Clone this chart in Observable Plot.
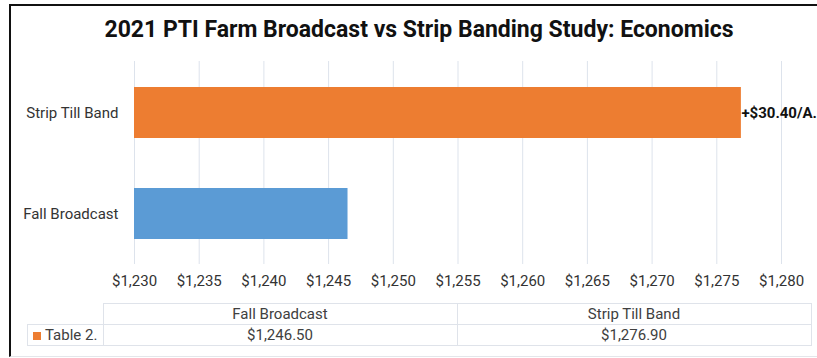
<!DOCTYPE html>
<html>
<head>
<meta charset="utf-8">
<script src="https://cdn.jsdelivr.net/npm/d3@7"></script>
<script src="https://cdn.jsdelivr.net/npm/@observablehq/plot@0.6"></script>
<style>
  html, body { margin: 0; padding: 0; background: #fff; }
  body { width: 817px; height: 358px; overflow: hidden; position: relative; font-family: Roboto, "Noto Sans", sans-serif; }
  #frame { position: absolute; left: 9px; top: 4px; width: 900px; height: 350px; border-left: 2px solid #111; border-top: 2px solid #111; border-bottom: 1px solid #e4e6ea; box-sizing: content-box; }
  #title { position: absolute; left: 0; width: 838px; top: 16px; text-align: center; font-size: 23px; font-weight: bold; color: #111; z-index: 2; }
  #chart { position: absolute; left: 0; top: 0; }
  #tbl { position: absolute; left: 27px; top: 303px; border-collapse: collapse; font-size: 15px; color: #404040; }
  #tbl td { border: 1px solid #dfe3ea; padding: 0; text-align: center; height: 20px; line-height: 20px; }
  #tbl td.blank { border: none; }
  #tbl td.lab { text-align: left; padding-left: 5px; white-space: nowrap; }
  .sw { display: inline-block; width: 8px; height: 8px; background: #ED7D31; margin-right: 4px; vertical-align: 0px; }
</style>
</head>
<body>
<div id="frame"></div>
<div id="chart"></div>
<div id="title">2021 PTI Farm Broadcast vs Strip Banding Study: Economics</div>
<table id="tbl"></table>
<script>
const categories = ["Strip Till Band", "Fall Broadcast"];
const values = [1276.90, 1246.50];
const barColors = ["#ED7D31", "#5B9BD5"];
const barLabels = ["+$30.40/A.", ""];
const tableColumns = ["Fall Broadcast", "Strip Till Band"];
const tableValues = ["$1,246.50", "$1,276.90"];
const tableSeries = "Table 2.";
const xDomain = [1230, 1280];
const xTicks = d3.range(1230, 1281, 5);

const data = categories.map((c, i) => ({category: c, value: values[i], color: barColors[i], label: barLabels[i]}));

const chart = Plot.plot({
  width: 817,
  height: 300,
  marginTop: 61,
  marginBottom: 36,
  marginLeft: 134,
  marginRight: 36,
  style: { fontFamily: "Roboto, 'Noto Sans', sans-serif", fontSize: "15px", color: "#404040", background: "transparent", overflow: "visible" },
  x: { domain: xDomain, ticks: xTicks, tickFormat: d3.format("$,"), tickSize: 0, tickPadding: 12, label: null, grid: false },
  y: { domain: categories, padding: 0.5, paddingOuter: 0.25, tickSize: 0, tickPadding: 16, label: null },
  marks: [
    Plot.gridX(xTicks, { stroke: "#dde3ec", strokeOpacity: 1, strokeWidth: 1 }),
    Plot.barX(data, { x1: xDomain[0], x2: "value", y: "category", fill: "color" }),
    Plot.text(data, { x: "value", y: "category", text: "label", textAnchor: "start", fontWeight: "bold", fill: "#111", fontSize: 15, dx: 0 }),
    Plot.axisX({ ticks: xTicks, tickFormat: d3.format("$,"), tickSize: 0, tickPadding: 11, fill: "#333" }),
    Plot.axisY({ tickSize: 0, tickPadding: 16, fill: "#333" })
  ]
});
document.getElementById("chart").appendChild(chart);

const tbl = document.getElementById("tbl");
const r1 = tbl.insertRow();
const c0 = r1.insertCell(); c0.className = "blank"; c0.style.width = "75px";
tableColumns.forEach((t) => { const c = r1.insertCell(); c.textContent = t; c.style.width = "353px"; });
const r2 = tbl.insertRow();
const l = r2.insertCell(); l.className = "lab"; l.innerHTML = '<span class="sw"></span>' + tableSeries;
tableValues.forEach(v => { const c = r2.insertCell(); c.textContent = v; });
</script>
</body>
</html>
